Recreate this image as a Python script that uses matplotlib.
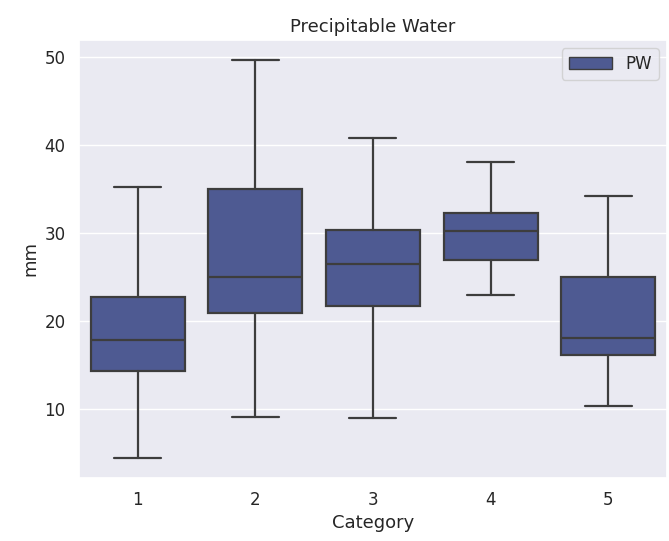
import matplotlib
matplotlib.use("Agg")
import matplotlib.pyplot as plt
import matplotlib.patches as mpatches
import seaborn as sns

sns.set_theme(style="darkgrid")

categories = ["1", "2", "3", "4", "5"]
whislo = [4.45, 9.1, 9.0, 23.0, 10.3]
q1 = [14.3, 20.9, 21.7, 26.9, 16.1]
med = [17.9, 25.0, 26.5, 30.2, 18.05]
q3 = [22.7, 35.0, 30.4, 32.3, 25.0]
whishi = [35.2, 49.7, 40.85, 38.1, 34.2]

box_color = "#4e5a92"
line_color = "#3d3d3d"

stats = []
for i, c in enumerate(categories):
    stats.append({"label": c, "whislo": whislo[i], "q1": q1[i], "med": med[i],
                  "q3": q3[i], "whishi": whishi[i], "fliers": []})

fig, ax = plt.subplots(figsize=(6.69, 5.41), dpi=100)
lp = dict(color=line_color, linewidth=1.6)
ax.bxp(stats, positions=range(len(categories)), widths=0.8, patch_artist=True,
       showfliers=False,
       boxprops=dict(facecolor=box_color, edgecolor=line_color, linewidth=1.6),
       medianprops=lp, whiskerprops=lp, capprops=lp, capwidths=0.4)

ax.set_xlim(-0.5, len(categories) - 0.5)
ax.set_xticks(range(len(categories)))
ax.set_xticklabels(categories)
ax.grid(False, axis="x")
ax.tick_params(labelsize=12)
ax.set_xlabel("Category", fontsize=13)
ax.set_ylabel("mm", fontsize=13)
ax.set_title("Precipitable Water", fontsize=13)
ax.legend(handles=[mpatches.Patch(facecolor=box_color, edgecolor=line_color, label="PW")],
          loc="upper right", fontsize=12, handlelength=2.6)

fig.subplots_adjust(left=0.118, right=0.997, top=0.926, bottom=0.117)
fig.savefig("out.png", dpi=100)
